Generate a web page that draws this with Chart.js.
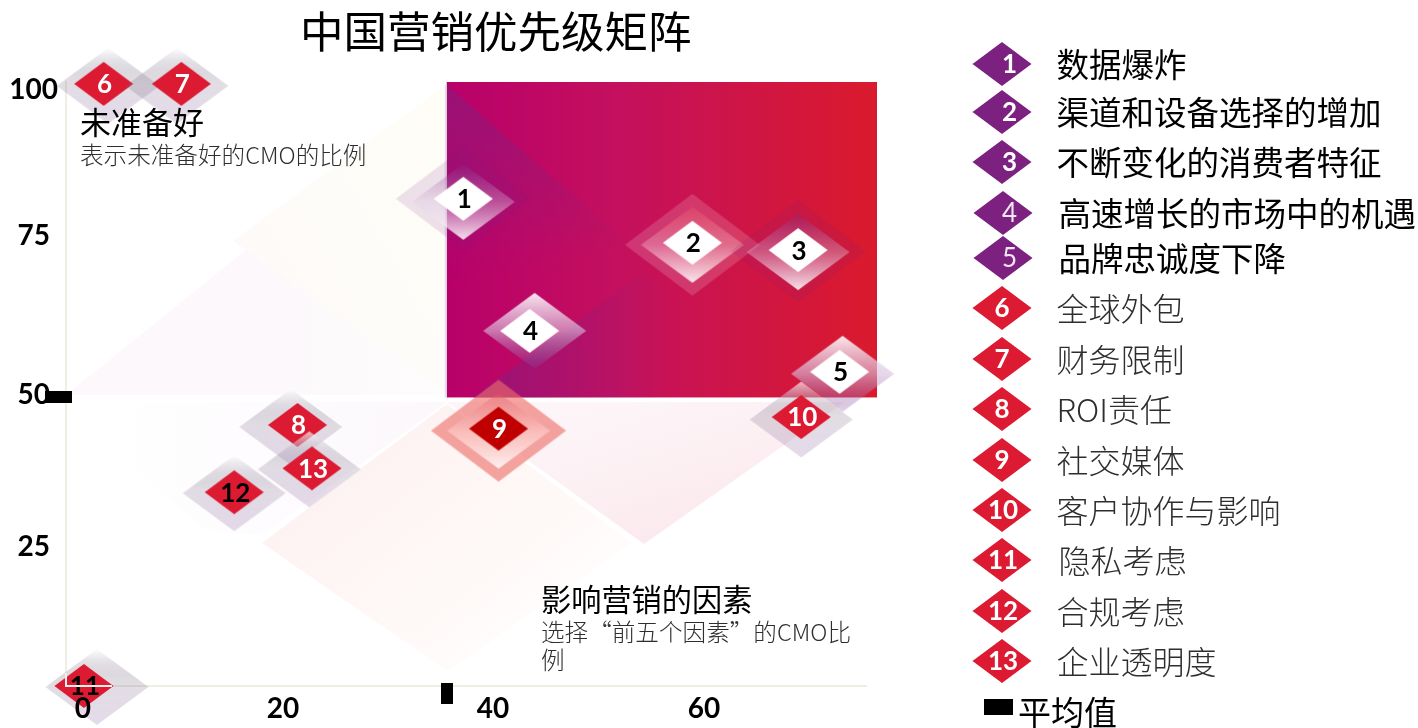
<!DOCTYPE html>
<html lang="zh">
<head>
<meta charset="utf-8">
<title>中国营销优先级矩阵</title>
<script src="https://cdn.jsdelivr.net/npm/chart.js@4/dist/chart.umd.js"></script>
<style>
  html, body { margin: 0; padding: 0; background: #fff; }
  canvas { display: block; }
</style>
</head>
<body>
<canvas id="matrix" width="1418" height="728"></canvas>
<script>
// Marketing factors, numbered 1 to 13 as listed in the key
const factorNames = ['数据爆炸', '渠道和设备选择的增加', '不断变化的消费者特征', '高速增长的市场中的机遇',
  '品牌忠诚度下降', '全球外包', '财务限制', 'ROI责任', '社交媒体', '客户协作与影响',
  '隐私考虑', '合规考虑', '企业透明度'];
// Share of CMOs naming the factor among their top five
const influencePct = [37.0, 59.1, 69.3, 43.4, 73.3, 2.3, 9.8, 21.0, 40.4, 69.6, 0.4, 14.9, 22.4];
// Share of CMOs reporting they are unprepared for it
const unpreparedPct = [81.8, 74.6, 73.4, 60.2, 53.5, 100.6, 100.6, 44.8, 44.2, 46.1, 2.1, 33.8, 37.7];
const meanInfluence = 35.4;
const meanUnprepared = 49.3;
const xTickValues = [0, 20, 40, 60];
const yTickValues = [25, 50, 75, 100];

const CJK = '"Noto Sans CJK SC", "Noto Sans", sans-serif';
const LATIN = 'Lato, "Noto Sans", sans-serif';
const RED = '#dc1a32', PURPLE = '#7d2181', DEEP_RED = '#c00000';

// Hand placement of the tick captions, in pixels
const xTickNudge = [3.2, -4, -1.4, 2.3];
const yTickNudge = [1, 1.8, -4.3, 2.5];

function diamond(ctx, cx, cy, hw, hh) {
  ctx.beginPath();
  ctx.moveTo(cx, cy - hh);
  ctx.lineTo(cx + hw, cy);
  ctx.lineTo(cx, cy + hh);
  ctx.lineTo(cx - hw, cy);
  ctx.closePath();
}

// Glow around each marker: offsets of the glow diamonds and the palette used
const glowStyles = [
  { kind: 'lift', dx: 0, dy: 3, outerDy: 0, tone: 'purple' },
  { kind: 'lift', dx: 0, dy: 2, outerDy: 2, tone: 'rose' },
  { kind: 'lift', dx: 0, dy: 2, outerDy: 1, tone: 'purple' },
  { kind: 'drop', dx: 5, dy: 0, strong: true },
  { kind: 'drop', dx: 3, dy: 2, strong: true },
  { kind: 'drop', dx: 4.5, dy: 2 },
  { kind: 'drop', dx: -4.5, dy: 2 },
  { kind: 'drop', dx: -6.7, dy: 2 },
  { kind: 'lift', dx: 0, dy: 2, outerDy: 2, tone: 'salmon' },
  { kind: 'drop', dx: 0, dy: 2.5 },
  { kind: 'drop', dx: 13, dy: 1 },
  { kind: 'drop', dx: 0, dy: 1 },
  { kind: 'drop', dx: -2.7, dy: 1 }
];
const glowTones = {
  purple: { outer: 'rgba(125,33,129,0.13)', top: 'rgba(125,33,129,0.32)', mid: 'rgba(225,205,230,0.35)', bottom: 'rgba(255,255,255,0.88)' },
  rose: { outer: 'rgba(255,255,255,0.16)', top: 'rgba(240,90,100,0.30)', mid: 'rgba(255,235,235,0.28)', bottom: 'rgba(255,255,255,0.88)' },
  salmon: { outer: 'rgba(238,110,105,0.62)', top: 'rgba(225,80,90,0.40)', mid: 'rgba(255,215,210,0.50)', bottom: 'rgba(255,255,255,0.85)' }
};

function markerFill(i) {
  if (i < 5) return '#ffffff';
  return i === 8 ? DEEP_RED : RED;
}

// Builds the canvas used as pointStyle: glow diamonds with the solid diamond on top
function markerCanvas(i) {
  const c = document.createElement('canvas');
  c.width = 190; c.height = 130;
  const g = c.getContext('2d');
  const cx = 95, cy = 65, s = glowStyles[i];
  if (s.kind === 'lift') {
    const t = glowTones[s.tone];
    diamond(g, cx + s.dx, cy + s.outerDy, 67.5, 51);
    g.fillStyle = t.outer; g.fill();
    const ly = cy + s.dy;
    const lg = g.createLinearGradient(0, ly - 38, 0, ly + 38);
    lg.addColorStop(0, t.top); lg.addColorStop(0.5, t.mid); lg.addColorStop(1, t.bottom);
    diamond(g, cx + s.dx, ly, 51.5, 38);
    g.fillStyle = lg; g.fill();
  } else {
    const ly = cy + s.dy;
    const lg = g.createLinearGradient(0, ly - 38, 0, ly + 38);
    if (s.strong) {
      lg.addColorStop(0, 'rgba(255,255,255,0.90)');
      lg.addColorStop(0.5, 'rgba(215,190,220,0.62)');
      lg.addColorStop(1, 'rgba(125,70,150,0.26)');
    } else {
      lg.addColorStop(0, 'rgba(255,255,255,0.7)');
      lg.addColorStop(0.45, 'rgba(120,105,130,0.22)');
      lg.addColorStop(1, 'rgba(125,70,150,0.20)');
    }
    diamond(g, cx + s.dx, ly, 51.5, 38);
    g.fillStyle = lg; g.fill();
  }
  diamond(g, cx, cy, 29.5, 22);
  g.fillStyle = markerFill(i); g.fill();
  return c;
}

function blockCanvas(w, h) {
  const c = document.createElement('canvas');
  c.width = w; c.height = h;
  const g = c.getContext('2d');
  g.fillStyle = '#000';
  g.fillRect(0, 0, w, h);
  return c;
}

// Very pale diamonds behind the plot, in canvas pixels
const washes = [
  { pts: [[66, 395], [252, 245], [447, 395]], from: [66, 395], to: [447, 395], stops: ['#fdf8fc', '#fcf8fb', '#fefcfd'] },
  { pts: [[233, 241], [447, 84], [447, 393]], from: [233, 241], to: [447, 120], stops: ['#fdfaf7', '#fefcf8', '#fffdf6'] },
  { pts: [[100, 402], [447, 402], [262, 535], [205, 530], [100, 440]], from: [100, 402], to: [420, 402], stops: ['#ffffff', '#fefcfe', '#fcf8fc'] },
  { pts: [[262, 543], [447, 404], [632, 543], [447, 671]], from: [340, 440], to: [500, 650], stops: ['#fdf1f1', '#fef7f5', '#fffcfb'] },
  { pts: [[447, 402], [845, 402], [644, 544]], from: [600, 402], to: [644, 544], stops: ['#fdf5f8', '#fcf0f3', '#fbe9ee'] }
];

// Quadrant band, page title, annotations and the key
const matrixDecor = {
  id: 'matrixDecor',
  beforeDatasetsDraw(chart) {
    const { ctx, scales: { x, y } } = chart;
    ctx.save();
    washes.forEach(w => {
      const lg = ctx.createLinearGradient(w.from[0], w.from[1], w.to[0], w.to[1]);
      w.stops.forEach((s, k) => lg.addColorStop(k / (w.stops.length - 1), s));
      ctx.fillStyle = lg;
      ctx.beginPath();
      w.pts.forEach((p, k) => k ? ctx.lineTo(p[0], p[1]) : ctx.moveTo(p[0], p[1]));
      ctx.closePath();
      ctx.fill();
    });

    const left = x.getPixelForValue(meanInfluence);
    const bottom = y.getPixelForValue(meanUnprepared);
    const right = 877, top = chart.chartArea.top;
    const band = ctx.createLinearGradient(left, 0, right, 0);
    band.addColorStop(0, '#b8006a');
    band.addColorStop(0.4, '#c4105e');
    band.addColorStop(1, '#da1a2c');
    ctx.fillStyle = band;
    ctx.fillRect(left, top, right - left, bottom - top);

    let shade = ctx.createLinearGradient(470, 100, 505, 275);
    shade.addColorStop(0, 'rgba(125,33,129,0.48)');
    shade.addColorStop(1, 'rgba(125,33,129,0)');
    ctx.fillStyle = shade;
    ctx.beginPath();
    ctx.moveTo(left, top + 3); ctx.lineTo(632, 247); ctx.lineTo(left, 400);
    ctx.closePath(); ctx.fill();

    shade = ctx.createLinearGradient(490, 0, 665, 0);
    shade.addColorStop(0, 'rgba(125,33,129,0.50)');
    shade.addColorStop(1, 'rgba(125,33,129,0)');
    ctx.fillStyle = shade;
    ctx.beginPath();
    ctx.moveTo(473, bottom); ctx.lineTo(640, 275); ctx.lineTo(700, 300); ctx.lineTo(700, bottom);
    ctx.closePath(); ctx.fill();

    ctx.fillStyle = 'rgba(226,220,234,0.9)';
    ctx.fillRect(left - 2, top + 3, 2, bottom - top - 3);
    ctx.restore();
  },
  afterDatasetsDraw(chart) {
    const { ctx } = chart;
    ctx.save();
    ctx.textBaseline = 'middle';
    const pts = chart.getDatasetMeta(0).data;
    ctx.textAlign = 'center';
    ctx.font = 'bold 26px ' + LATIN;
    pts.forEach((p, i) => {
      ctx.fillStyle = (i < 5 || i === 10 || i === 11) ? '#000' : '#fff';
      ctx.fillText(String(i + 1), p.x + 1, p.y + 1);
    });
    // Axis corner stays visible where the lowest marker sits on it
    ctx.fillStyle = '#f6eeec';
    const { left, bottom } = chart.chartArea;
    ctx.fillRect(left - 1, bottom - 1, 47, 2);
    ctx.fillRect(left - 1, bottom - 13, 2, 13);
    ctx.restore();
  },
  afterDraw(chart) {
    const { ctx } = chart;
    ctx.save();
    ctx.textBaseline = 'middle';
    ctx.textAlign = 'left';

    ctx.fillStyle = '#000';
    ctx.font = '43.5px ' + CJK;
    ctx.fillText('中国营销优先级矩阵', 300, 31);

    ctx.font = '31px ' + CJK;
    ctx.fillText('未准备好', 80, 122);
    ctx.font = '30.2px ' + CJK;
    ctx.fillText('影响营销的因素', 541, 600);
    ctx.fillStyle = '#2e2e2e';
    ctx.font = '300 23.6px ' + CJK;
    ctx.fillText('表示未准备好的CMO的比例', 80, 155);
    ctx.fillText('选择“前五个因素”的CMO比', 541, 632);
    ctx.fillText('例', 541, 660);

    const keyRows = [64, 112, 162, 213, 258, 308, 359, 409, 460, 510, 560, 611, 661];
    keyRows.forEach((ky, i) => {
      const hi = i < 5;
      const kx = (i === 3 || i === 4) ? 1003 : 1002;
      diamond(ctx, kx, ky, 29.5, 22);
      ctx.fillStyle = hi ? PURPLE : RED;
      ctx.fill();
      ctx.textAlign = 'center';
      ctx.font = ((i === 3 || i === 4) ? '' : 'bold ') + '26px ' + LATIN;
      ctx.fillStyle = (i === 3 || i === 4) ? '#f3e6f3' : '#fff';
      const nx = hi ? 1009.5 : (i > 8 ? 1003 : 1002);
      ctx.fillText(String(i + 1), nx, ky + 1);
      ctx.textAlign = 'left';
      ctx.font = hi ? '32.5px ' + CJK : '300 32px ' + CJK;
      ctx.fillStyle = hi ? '#000' : '#2e2e2e';
      const tx = (i === 3 || i === 4 || i === 10) ? 1058.5 : 1056.5;
      ctx.fillText(factorNames[i], tx, ky + 1);
    });

    ctx.fillStyle = '#000';
    ctx.fillRect(984, 699, 29, 16);
    ctx.font = '33px ' + CJK;
    ctx.fillText('平均值', 1018, 712);
    ctx.restore();
  }
};

const pointImages = factorNames.map((_, i) => markerCanvas(i));

function placeTicks(values, nudge) {
  return s => {
    s.ticks = values.map(v => ({ value: v }));
    s.getPixelForTick = i => s.getPixelForValue(s.ticks[i].value) + nudge[i];
  };
}

new Chart(document.getElementById('matrix'), {
  type: 'scatter',
  plugins: [matrixDecor],
  data: {
    datasets: [
      {
        label: '营销因素',
        data: factorNames.map((_, i) => ({ x: influencePct[i], y: unpreparedPct[i] })),
        pointStyle: pointImages,
        pointRadius: 40,
        clip: false,
        order: 1
      },
      {
        label: '平均值',
        data: [{ x: meanInfluence, y: 0.9 }, { x: -2.08, y: meanUnprepared }],
        pointStyle: [blockCanvas(12, 21), blockCanvas(27, 12)],
        pointRadius: 14,
        clip: false,
        order: 2
      }
    ]
  },
  options: {
    responsive: false,
    animation: false,
    events: [],
    layout: { padding: { top: 82, right: 552, left: 0, bottom: 0 } },
    plugins: { legend: { display: false }, tooltip: { enabled: false }, title: { display: false } },
    scales: {
      x: {
        type: 'linear',
        min: -1.33,
        max: 75.85,
        afterBuildTicks: placeTicks(xTickValues, xTickNudge),
        afterFit: s => { s.height = 42; },
        grid: { display: true, drawOnChartArea: false, drawTicks: false },
        border: { display: true, color: '#efeee3', width: 2 },
        ticks: { z: 1, padding: 6, maxRotation: 0, autoSkip: false, color: '#000',
          font: { family: LATIN, weight: 'bold', size: 28 } }
      },
      y: {
        type: 'linear',
        min: 2.1,
        max: 100.9,
        afterBuildTicks: placeTicks(yTickValues, yTickNudge),
        afterFit: s => { s.width = 66; },
        grid: { display: true, drawOnChartArea: false, drawTicks: false },
        border: { display: true, color: '#efeee3', width: 2 },
        ticks: { z: 1, padding: 8, crossAlign: 'center', autoSkip: false, color: '#000',
          font: { family: LATIN, weight: 'bold', size: 28 } }
      }
    }
  }
});
</script>
</body>
</html>
